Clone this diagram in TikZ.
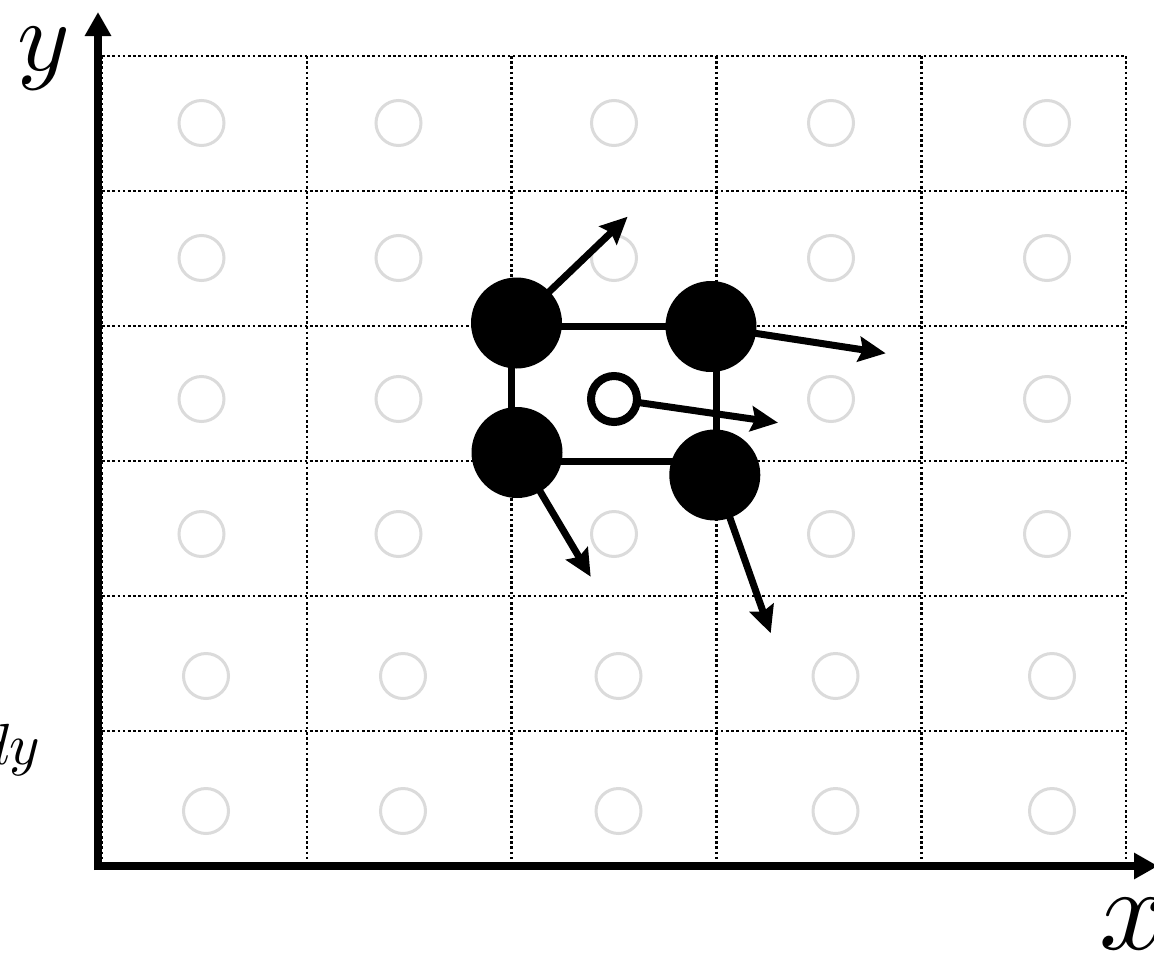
\documentclass[tikz,border=0pt]{standalone}
\usetikzlibrary{arrows.meta}
\pgfdeclarelayer{backlayer}
\pgfdeclarelayer{gridlayer}
\pgfdeclarelayer{bglayer}
\pgfsetlayers{backlayer,gridlayer,bglayer,main}
\begin{document}
\begin{tikzpicture}[x=1pt,y=-1pt,
  gridline/.style={line width=2.6pt, dash pattern=on 2.6pt off 2.6pt},
  site/.style={circle, draw=black!14, line width=3pt, minimum size=45pt, inner sep=0pt},
  atom/.style={circle, fill=black, minimum size=91pt, inner sep=0pt},
  hole/.style={circle, draw=black, fill=white, line width=8pt, minimum size=46pt, inner sep=0pt},
  bond/.style={line width=7pt},
  vector/.style={line width=7pt, -{Stealth[length=27pt,width=25pt,inset=4pt]}},
  axis/.style={line width=8.5pt, -{Triangle[length=24pt,width=25pt]}},
  lbl/.style={inner sep=0pt}]
\useasboundingbox (0,0) rectangle (1154,956);
\begin{pgfonlayer}{backlayer}
\fill[white] (0,0) rectangle (1154,956);
\end{pgfonlayer}

% grid
\begin{pgfonlayer}{gridlayer}
\foreach \gx in {102,306.8,511.6,716.4,921.2,1126}
  \draw[gridline] (\gx,56) -- (\gx,866);
\foreach \gy in {56,191,326,461,596,731}
  \draw[gridline] (102,\gy) -- (1126,\gy);
% lattice sites
\foreach \sy [count=\r] in {123,258,399,534}
  \foreach \sx [count=\c] in {201.5,398.5,614,831,1047}
    \node[site] (s\r\c) at (\sx,\sy) {};
\foreach \sy [count=\r from 5] in {676,811}
  \foreach \sx [count=\c] in {206,403,618.5,835.5,1052}
    \node[site] (s\r\c) at (\sx,\sy) {};
\end{pgfonlayer}

% lattice corners used by the bonds
\coordinate (c1) at (511.6,326);
\coordinate (c2) at (716.4,326);
\coordinate (c3) at (511.6,461);
\coordinate (c4) at (716.4,461);

% atoms
\node[atom] (a1) at (516.5,323) {};
\node[atom] (a2) at (711,326.5) {};
\node[atom] (a3) at (517,452.5) {};
\node[atom] (a4) at (714.8,475) {};
\node[hole] (h) at (614,399) {};

% arrow tips
\coordinate (t1) at (627.6,216.7);
\coordinate (t2) at (885.7,353.3);
\coordinate (t3) at (590.7,576.7);
\coordinate (t4) at (770.7,633.3);
\coordinate (th) at (778,422.7);

\begin{pgfonlayer}{bglayer}
\draw[bond] (c1) -- (c2) -- (c4) -- (c3) -- cycle;
\draw[vector] (a1.center) -- (t1);
\draw[vector] (a2.center) -- (t2);
\draw[vector] (a3.center) -- (t3);
\draw[vector] (a4.center) -- (t4);
\draw[vector] (h.center) -- (th);
\end{pgfonlayer}

% axes
\coordinate (o) at (98,870);
\coordinate (ytip) at (98,12);
\coordinate (ox) at (94,866);
\coordinate (xtip) at (1158,866);
\draw[axis] (o) -- (ytip);
\draw[axis] (ox) -- (xtip);

% labels
\node[lbl, scale=10, anchor=base west] (ylab) at (15,70) {$y$};
\node[lbl, scale=11.8, anchor=base west] (xlab) at (1097,949) {$x$};
\node[lbl, scale=5.8, anchor=base east] (dylab) at (41,764) {$dy$};
\end{tikzpicture}
\end{document}
